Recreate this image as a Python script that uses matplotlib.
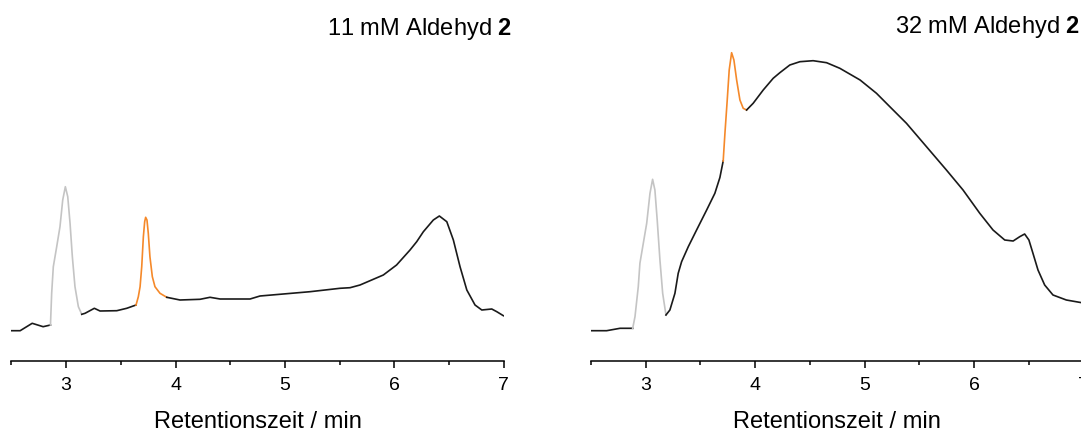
import matplotlib
matplotlib.use("Agg")
import matplotlib.pyplot as plt

plt.rcParams['font.family'] = ['Liberation Sans', 'DejaVu Sans']
plt.rcParams['mathtext.fontset'] = 'custom'
plt.rcParams['mathtext.rm'] = 'Liberation Sans'
plt.rcParams['mathtext.bf'] = 'Liberation Sans:bold'

# ------- data (time in min, signal in a.u.) -------

# 11 mM Aldehyd 2
t11_a = [2.50, 2.58, 2.69, 2.79, 2.857]
s11_a = [30.3, 30.3, 37.7, 34.3, 36.0]
t11_gray = [2.857, 2.868, 2.883, 2.914, 2.944, 2.969, 2.993, 3.015, 3.036,
            3.057, 3.081, 3.112, 3.143]
s11_gray = [36.0, 67.7, 94.3, 114.3, 134.3, 161.0, 174.3, 164.3, 137.7,
            104.3, 74.3, 54.3, 46.7]
t11_b = [3.143, 3.173, 3.258, 3.310, 3.463, 3.554, 3.639]
s11_b = [46.7, 47.7, 52.7, 50.0, 50.3, 52.7, 56.0]
t11_orange = [3.639, 3.660, 3.676, 3.691, 3.706, 3.718, 3.727, 3.739, 3.751,
              3.766, 3.788, 3.812, 3.858, 3.920]
s11_orange = [56.0, 64.3, 74.3, 94.3, 124.3, 139.3, 143.7, 141.0, 127.7,
              104.3, 84.3, 74.3, 67.7, 63.7]
t11_c = [3.920, 4.041, 4.224, 4.315, 4.407, 4.681, 4.772, 5.229, 5.503,
         5.595, 5.686, 5.899, 6.020, 6.143, 6.204, 6.265, 6.356, 6.411,
         6.479, 6.539, 6.600, 6.662, 6.737, 6.799, 6.890, 6.936, 6.996]
s11_c = [63.7, 61.0, 61.7, 63.7, 62.0, 62.0, 65.0, 69.3, 72.7,
         73.3, 76.0, 86.0, 96.0, 111.0, 119.3, 129.3, 141.0, 145.0,
         139.3, 121.0, 94.3, 71.0, 56.0, 51.0, 52.0, 49.3, 45.3]

# 32 mM Aldehyd 2
t32_a = [2.506, 2.643, 2.765, 2.881]
s32_a = [30.3, 30.3, 32.7, 32.7]
t32_gray = [2.881, 2.902, 2.932, 2.947, 2.978, 3.009, 3.039, 3.063, 3.084,
            3.105, 3.130, 3.155, 3.185]
s32_gray = [32.7, 44.3, 74.3, 97.7, 117.7, 137.7, 167.7, 181.7, 171.0,
            141.0, 101.0, 67.7, 46.0]
t32_b = [3.185, 3.221, 3.267, 3.297, 3.328, 3.389, 3.465, 3.557, 3.632,
         3.678, 3.708]
s32_b = [46.0, 51.0, 67.7, 87.7, 99.3, 114.3, 131.0, 151.0, 167.7,
         183.5, 200.0]
t32_orange = [3.708, 3.724, 3.745, 3.763, 3.785, 3.806, 3.831, 3.861, 3.891,
              3.922]
s32_orange = [200.0, 227.7, 261.0, 291.0, 308.3, 301.0, 281.0, 261.0, 252.7,
              251.0]
t32_c = [3.922, 3.982, 4.074, 4.165, 4.226, 4.317, 4.409, 4.530, 4.653,
         4.774, 4.959, 5.109, 5.231, 5.383, 5.566, 5.748, 5.900, 6.053,
         6.174, 6.281, 6.358, 6.418, 6.463, 6.502, 6.539, 6.585, 6.646,
         6.722, 6.844, 7.000]
s32_c = [251.0, 257.7, 271.0, 282.7, 288.3, 296.0, 299.3, 300.3, 298.3,
         292.7, 281.0, 267.7, 254.3, 237.7, 214.3, 191.0, 171.0, 147.7,
         131.0, 121.0, 120.0, 124.3, 127.0, 121.0, 107.7, 91.0, 76.0,
         66.0, 61.0, 58.0]

panels = [
    ("11 mM Aldehyd $\\mathbf{2}$", t11_a, s11_a, t11_gray, s11_gray, t11_b, s11_b,
     t11_orange, s11_orange, t11_c, s11_c),
    ("32 mM Aldehyd $\\mathbf{2}$", t32_a, s32_a, t32_gray, s32_gray, t32_b, s32_b,
     t32_orange, s32_orange, t32_c, s32_c),
]

xticks = [3, 4, 5, 6, 7]
xlabel = "Retentionszeit / min"

black = '#1a1a1a'
gray = '#c4c4c4'
orange = '#f5892a'

W, H = 1081, 432
fig = plt.figure(figsize=(W / 100, H / 100), dpi=100)

ax_left_px = [11.4, 591.0]
title_px = [(327, 35), (895, 33)]
axis_px = 361

for k, p in enumerate(panels):
    title, ta, sa, tg, sg, tb, sb, to, so, tc, sc = p
    ax = fig.add_axes([ax_left_px[k] / W, (H - axis_px) / H,
                       492.4 / W, axis_px / H])
    ax.plot(ta, sa, color=black, lw=1.2)
    ax.plot(tg, sg, color=gray, lw=1.2)
    ax.plot(tb, sb, color=black, lw=1.2)
    ax.plot(to, so, color=orange, lw=1.2)
    ax.plot(tc, sc, color=black, lw=1.2)
    ax.set_xlim(2.5, 7)
    ax.set_ylim(0, axis_px)
    for s in ['top', 'left', 'right']:
        ax.spines[s].set_visible(False)
    ax.spines['bottom'].set_linewidth(1.1)
    ax.set_yticks([])
    ax.set_xticks(xticks)
    ax.set_xticks([2.5, 3.5, 4.5, 5.5, 6.5], minor=True)
    ax.tick_params(axis='x', which='major', direction='out', length=5,
                   width=1.1, pad=6.5, labelsize=14)
    ax.tick_params(axis='x', which='minor', direction='out', length=3,
                   width=1.1)
    ax.patch.set_alpha(0)
    xc = (ax_left_px[k] + 492.4 / 2) / W
    fig.text(xc, (H - 428.5) / H, xlabel, ha='center', va='baseline',
             fontsize=17)
    fig.text(title_px[k][0] / W, (H - title_px[k][1]) / H, title,
             ha='left', va='baseline', fontsize=17)

fig.savefig('out.png', dpi=100)
